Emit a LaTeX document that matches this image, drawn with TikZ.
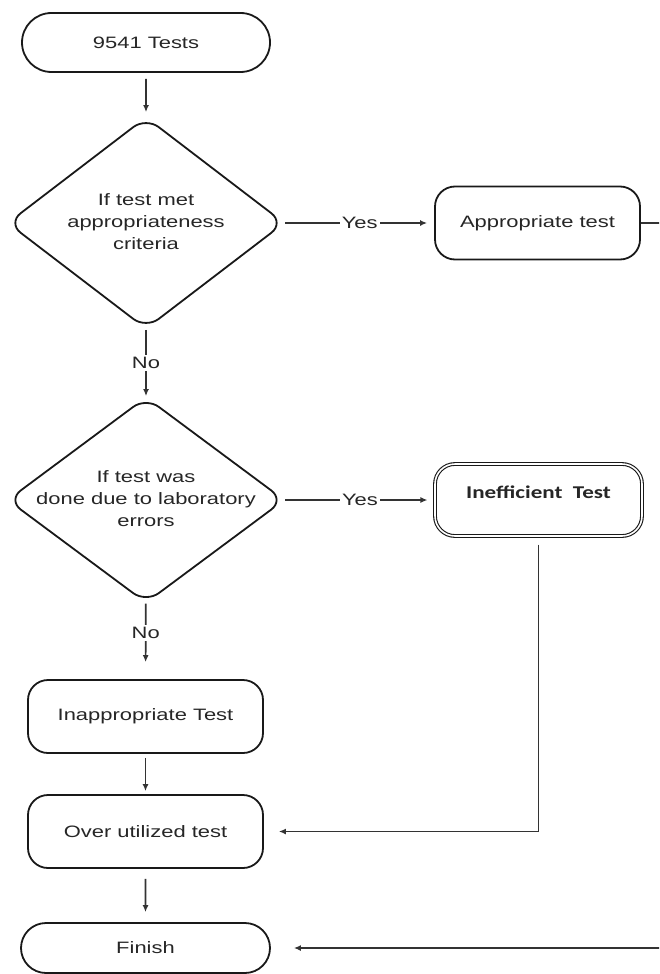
\documentclass[tikz,border=0pt]{standalone}
\usepackage{fontspec}
\setmainfont{Liberation Sans}[FakeStretch=1.33]
\newfontfamily\calibfont{Carlito}[FakeStretch=1.28]
\usetikzlibrary{shapes.geometric,shapes.misc,arrows.meta}
\begin{document}
\begin{tikzpicture}[x=1pt,y=-1pt,
  every node/.style={font=\fontsize{16.5}{22}\selectfont, text=black!85},
  term/.style={draw=black!90, line width=1.8pt, rounded rectangle, minimum width=248pt, minimum height=59pt, inner sep=0pt},
  proc/.style={draw=black!90, line width=1.8pt, rectangle, rounded corners=20pt, minimum width=235pt, minimum height=73pt, inner sep=0pt},
  decision/.style={draw=black!90, line width=1.8pt, diamond, rounded corners=16pt, minimum width=277pt, minimum height=212pt, inner sep=0pt},
  conn/.style={draw=black!80, line width=1.7pt, -{Latex[length=7pt,width=6pt]}},
  lab/.style={fill=white, inner sep=2pt}
]
\useasboundingbox (0,0) rectangle (659,974);
\clip (0,0) rectangle (659,974);

\node[term] (start) at (146,42.5) {9541 Tests};
\node[decision] (d1) at (146,223) {\makebox[0pt]{\begin{tabular}{@{}c@{}}If test met\\appropriateness\\criteria\end{tabular}}};
\node[proc, minimum width=205pt] (app) at (537.5,223) {Appropriate test};
\node[decision, minimum height=206pt] (d2) at (146,500) {\makebox[0pt]{\begin{tabular}{@{}c@{}}If test was\\done due to laboratory\\errors\end{tabular}}};
\node[proc, double, double distance=1.6pt, line width=1.1pt, minimum width=207pt, minimum height=72pt] (ineff) at (538.5,500) {\calibfont\bfseries\fontsize{18}{22}\selectfont\raisebox{2pt}[0pt][0pt]{Inefficient\ \ Test}};
\node[proc] (inapp) at (145.5,716.5) {Inappropriate Test};
\node[proc] (over) at (145.5,831.5) {Over utilized test};
\node[term, minimum width=249pt, minimum height=50pt] (finish) at (145.5,948) {Finish};

\draw[conn, shorten <=6pt, shorten >=4pt] (start) -- (d1);
\draw[conn, shorten >=7pt] (d1) -- node[lab]{Yes} (app);
\draw[conn] (d1) -- node[lab]{No} (d2);
\draw[conn, shorten >=7pt] (d2) -- node[lab]{Yes} (ineff);
\draw[conn, shorten >=17pt] (d2) -- node[lab, pos=0.39]{No} (inapp);
\draw[conn, shorten <=4pt, shorten >=3pt] (inapp) -- (over);
\draw[conn, shorten <=10pt, shorten >=10pt] (over) -- (finish);
\draw[conn, shorten <=8pt, shorten >=15pt] (ineff.south) |- (over.east);
\draw[conn, shorten >=23pt] (app.east) -- ++(60,0) |- (finish.east);
\end{tikzpicture}
\end{document}
